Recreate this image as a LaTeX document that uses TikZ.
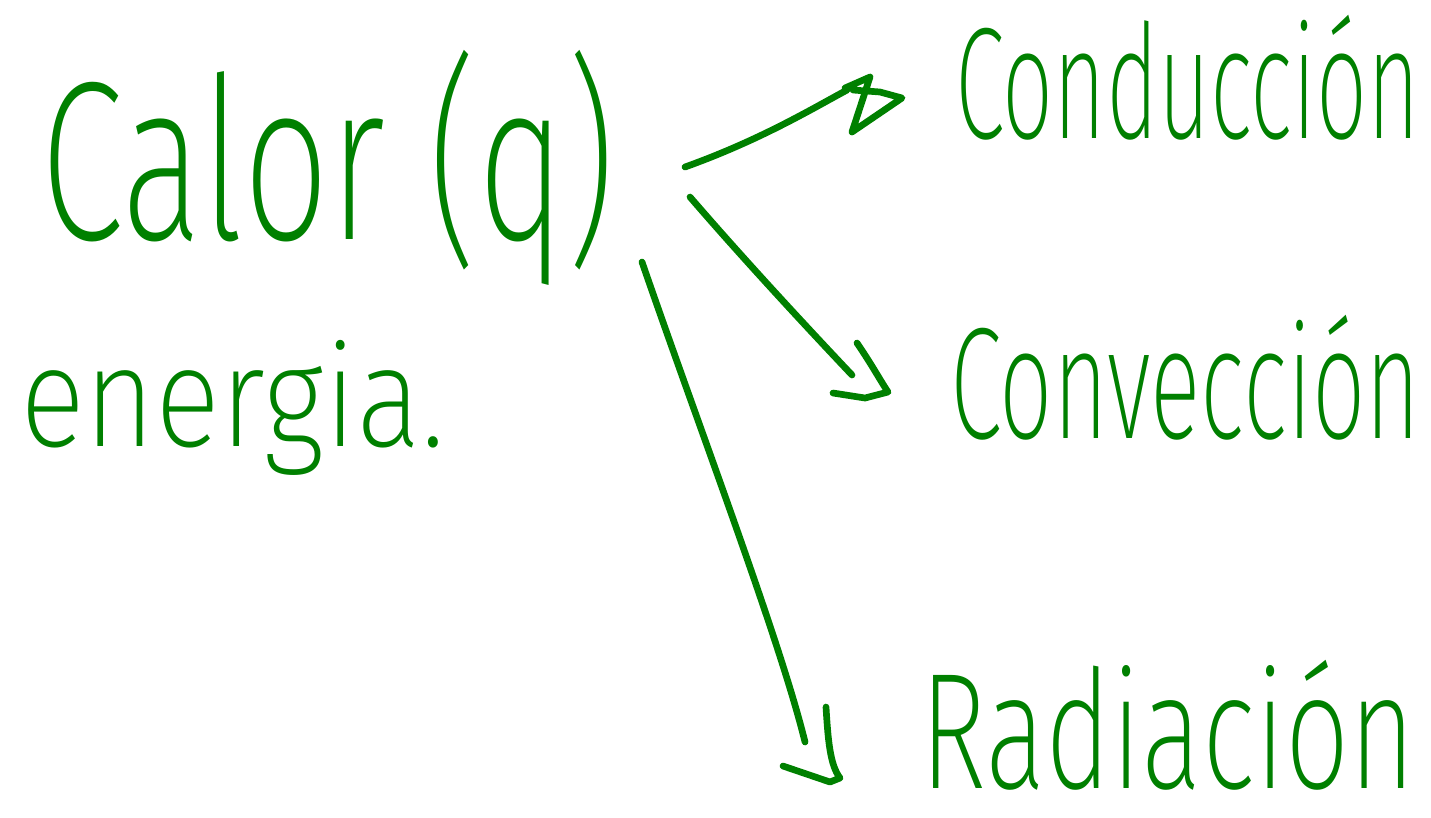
\documentclass[tikz,border=0pt]{standalone}
\usepackage{fontspec}
\usepackage{graphicx}
\newfontfamily\hand{Fira Sans ExtraLight}
\definecolor{ink}{RGB}{0,128,0}
\tikzset{
  word/.style={anchor=north west, inner sep=0pt, outer sep=0pt, text=ink, font=\hand},
  stroke/.style={draw=ink, line width=1.9pt, line cap=round, line join=round}
}
\begin{document}
\begin{tikzpicture}[x=0.01cm,y=-0.01cm]
\useasboundingbox (0,0) rectangle (1431,817);
% labels
\node[word] (calor) at (40,50) {\resizebox*{5.75cm}{2.35cm}{Calor (q)}};
\node[word] (energia) at (20,340) {\resizebox*{4.25cm}{1.35cm}{energia.}};
\node[word] (cond) at (955,15) {\resizebox*{4.65cm}{1.25cm}{Conducción}};
\node[word] (conv) at (950,315) {\resizebox*{4.70cm}{1.25cm}{Convección}};
\node[word] (rad) at (920,660) {\resizebox*{4.95cm}{1.30cm}{Radiación}};
% arrow ends
\coordinate (s1) at (685,167);
\coordinate (e1) at (847,90);
\coordinate (s2) at (690,197);
\coordinate (e2) at (852,375);
\coordinate (s3) at (642,262);
\coordinate (e3) at (805,742);
% shafts
\draw[stroke] (s1) .. controls (760,140) and (810,110) .. (e1);
\draw[stroke] (s2) .. controls (740,255) and (800,320) .. (e2);
\draw[stroke] (s3) .. controls (700,430) and (780,640) .. (e3);
% hand-drawn heads
\draw[stroke] ([shift={(-2,-2)}]e1) -- (870,77) -- (852,132) -- (902,98) -- (880,92) -- (853,90);
\draw[stroke] (857,343) .. controls (872,365) and (880,380) .. (888,392) -- (865,398) -- (833,393);
\draw[stroke] (826,707) .. controls (828,740) and (830,765) .. (840,778) -- (830,782) -- (783,766);
\end{tikzpicture}
\end{document}
